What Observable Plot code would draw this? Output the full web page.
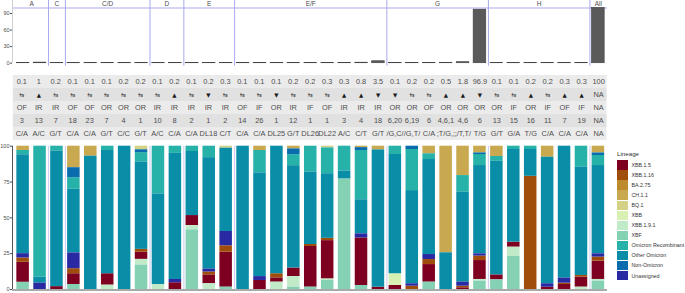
<!DOCTYPE html>
<html><head><meta charset="utf-8">
<script src="https://cdn.jsdelivr.net/npm/d3@7"></script>
<script src="https://cdn.jsdelivr.net/npm/@observablehq/plot@0.6"></script>
<style>
body{margin:0;background:#fff;font-family:"Liberation Sans",Arial,sans-serif;}
#wrap{position:relative;width:685px;height:293px;overflow:hidden;background:#fff;}
#wrap > .part{position:absolute;left:0;}
#legend{position:absolute;left:617px;top:149px;font-size:5.3px;color:#333;}
#legend .title{font-size:6.2px;height:11px;line-height:10px;}
#legend .item{display:flex;align-items:center;height:10.06px;}
#legend .sw{width:11px;height:9.4px;margin-right:3.5px;}
</style></head><body><div id="wrap"></div>
<script>
// ---------- data ----------
const facetNames = ["A","C","C/D","D","E","E/F","G","H","All"];
const facetSizes = [2,1,5,2,3,9,6,6,1];
const pctValues = [0.1,1,0.2,0.1,0.1,0.1,0.2,0.2,0.1,0.2,0.1,0.2,0.3,0.1,0.1,0.1,0.2,0.2,0.3,0.3,0.8,3.5,0.1,0.2,0.2,0.5,1.8,96.9,0.1,0.1,0.2,0.2,0.3,0.3,100];
const pctLabels = ["0.1","1","0.2","0.1","0.1","0.1","0.2","0.2","0.1","0.2","0.1","0.2","0.3","0.1","0.1","0.1","0.2","0.2","0.3","0.3","0.8","3.5","0.1","0.2","0.2","0.5","1.8","96.9","0.1","0.1","0.2","0.2","0.3","0.3","100"];
const trendLabels = ["⇆","▲","⇆","⇆","⇆","⇆","⇆","⇆","⇆","▲","⇆","▼","⇆","⇆","⇆","▼","⇆","⇆","⇆","▲","▲","▼","▼","⇆","⇆","▲","▲","▼","⇆","⇆","▲","⇆","▲","▲","NA"];
const siteLabels = ["OF","IR","IR","OF","OF","OR","OR","OR","IR","IR","IR","IR","IR","OF","IF","OR","IR","IF","OF","IR","IR","IR","OR","OR","OF","OR","OR","OR","OR","IF","OR","IF","OF","IF","NA"];
const codeLabels = ["3","13","7","18","23","7","4","1","10","8","2","1","2","14","26","1","12","1","1","3","4","18","6,20","6,19","6","4,6,1","4,6","6","13","15","16","11","7","19","NA"];
const mutLabels = ["C/A","A/C","G/T","C/A","C/A","G/T","C/C","G/T","A/C","C/A","C/A","DL18","C/T","C/A","C/A","DL25","G/T","DL26","DL22","A/C","C/T","G/T","/G,C/","/G,T/","C/A",";T/G,;",";/T,T/","T/G","G/T","G/A","T/G","C/A","C/A","C/A","NA"];

const lineages = ["XBB.1.5","XBB.1.16","BA.2.75","CH.1.1","BQ.1","XBB","XBB.1.9.1","XBF","Omicron Recombinant","Other Omicron","Non-Omicron","Unassigned"];
const lineageColors = ["#7d0020","#a04d0c","#bd8a2e","#c8a94f","#d3d185","#d8f1b3","#c1eac8","#84d1b4","#26b1a9","#0a8da6","#0b6cad","#2929a3"];
const stackOrder = ["XBF","XBB.1.9.1","XBB.1.5","XBB.1.16","XBB","Unassigned","Other Omicron","Omicron Recombinant","Non-Omicron","CH.1.1","BQ.1","BA.2.75"];

const xbb15 = [14,0,2,7.5,0,8,0,5,0,4.7,7,6.2,24.4,0,6.3,3,6,28.4,26.8,0,33.2,1.6,2.8,0,12.3,0,1.2,13.2,3.5,3.5,0,1.6,3.5,7,12.8];
const xbb116 = [3,0,0,3.5,0,0,0,2,0,0,0,2,4.5,0,0,2.9,0,1.4,1.6,0,0,0,0,2.3,3.5,0,1.1,3.1,0,0,79,0,0.9,1.2,2.8];
const ba275 = [0,0,0,0,0,0,0,0,0,0,0,0,0,0,0,0,0,0,0,0,0,0,0,0,0,0,0,0,0,0,0,0,0,0,0];
const ch11 = [3,0,0,15,7,0,0,0,0,0,0,0,0,0,3,0,1.9,0,0,0,1,2.6,0,0,5.3,74.4,20.5,4.7,7.2,0,0,7.7,0,0,4.7];
const bq1 = [0,0,0,0,0,0,0,2.5,0,0,0,0,1.4,0,0,0,0,0,1.2,0,0,0,0,0,0,0,0,0,0,0,0,0,0,0,0];
const xbb = [0,0,0,0,0,0,0,0,0,0,0,0,0,0,0,0,0,0,0,0,0,0,8.2,0,0,0,0,0,0,0,0,0,0,0,0];
const xbb191 = [0,0,0,0,0,3,0,4,3.5,0,3,4,0,0,0,5.1,7.4,0,1,0,0,0,0,0,0,0,0,1.2,0,6.5,0,0,0,1.6,1.2];
const xbf = [5,0,0,3.5,0,0,0,17,0,0,41.6,0,1.6,0,0,0,1.6,1.6,6.3,77.2,2.8,0,0,0,5.1,0,0,5.8,6.7,23,0,0,0,0,5.8];
const omRec = [3,91.4,3.5,8,0,3,0,6.5,33.3,5,3.7,8,0,0,15.6,0,7.7,18,18,17.4,34.4,0,5.8,28.7,4,0,11.6,7.7,3.3,2.3,2.3,0,0,14.7,7];
const otherOm = [69,4.2,94.5,44.5,93,86,100,61,63.2,88,44.7,77.8,58.1,100,72.4,89,71.4,50.6,45.1,5.4,23.8,95.8,83.2,65,66.3,25.6,62.8,61.6,79.3,64.7,18.7,88.3,92.1,75.5,61.6];
const nonOm = [0,0,0,7,0,0,0,2,0,0,0,0,0,0,0,0,4,0,0,0,2,0,0,2.3,0,0,0,1.1,0,0,0,0,0,0,1.8];
const unassigned = [3,4.4,0,11,0,0,0,0,0,2.3,0,2,10,0,2.7,0,0,0,0,0,2.8,0,0,1.7,3.5,0,2.8,1.6,0,0,0,2.4,3.5,0,2.3];
const lineageValues = [xbb15,xbb116,ba275,ch11,bq1,xbb,xbb191,xbf,omRec,otherOm,nonOm,unassigned];

// ---------- build ----------
const W = 685;
const font = '"Liberation Sans", Arial, sans-serif';
const cols = d3.range(pctValues.length);
const facets = []; let s = 0;
facetNames.forEach((n,k) => { facets.push({name:n, start:s, end:s+facetSizes[k]-1}); s += facetSizes[k]; });
const bounds = facets.slice(1).map(f => f.start - 0.5);
const xBars = {domain:[-0.5, cols.length-0.5], range:[14.15, 606.35], axis:null};
const hw = 0.37;
const wrap = document.getElementById("wrap");
function place(el, top){ el.classList.add("part"); el.style.top = top+"px"; wrap.appendChild(el); }

const topChart = Plot.plot({
  width:W, height:66, marginTop:7.5, marginBottom:3.3, marginLeft:12, marginRight:78,
  style:{fontFamily:font, fontSize:"5.5px", color:"#4d4d4d", background:"transparent", overflow:"visible"},
  x:xBars,
  y:{domain:[0,100], ticks:[0,30,60,90], tickSize:2, tickPadding:1, label:null},
  marks:[
    Plot.ruleX(bounds, {x:d=>d, stroke:"#a9a9ec", strokeWidth:1, insetTop:-8, insetBottom:-3}),
    Plot.ruleY([100], {stroke:"#a9a9ec"}),
    Plot.ruleX([-0.5], {dx:-2.15, stroke:"#d0d0d0", insetTop:-8}),
    Plot.rectY(cols, {x:i=>i, x1:i=>i-hw, x2:i=>i+hw, y:i=>pctValues[i], fill:"#5a5a5a", stroke:"#444", strokeWidth:0.7}),
    Plot.text(facets, {x:f=>(f.start+f.end)/2, y:()=>100, dy:-3.6, text:"name", fontSize:6.5, fill:"#4d4d4d"})
  ]
});
place(topChart, 0);

const rowKeys = ["pct","trend","site","code","mut"];
const rowText = {pct:pctLabels, trend:trendLabels, site:siteLabels, code:codeLabels, mut:mutLabels};
const cells = rowKeys.flatMap(r => cols.map(i => ({i, row:r, t:rowText[r][i]})));
const isSym = d => d.t === "⇆" || d.t === "▲" || d.t === "▼";
const tableChart = Plot.plot({
  width:W, height:66, marginTop:0, marginBottom:0, marginLeft:0, marginRight:0,
  style:{fontFamily:font, background:"transparent"},
  x:{domain:[-0.5, cols.length-0.5], range:[12.8, 606.6], axis:null},
  y:{domain:rowKeys, range:[0,66], padding:0, axis:null},
  marks:[
    Plot.barX(rowKeys.filter((r,k)=>k%2===0), {x1:()=>-0.5, x2:()=>cols.length-0.5, y:r=>r, fill:"#ebebeb"}),
    Plot.barX(rowKeys.filter((r,k)=>k%2===1), {x1:()=>-0.5, x2:()=>cols.length-0.5, y:r=>r, fill:"#e1e1e1"}),
    Plot.text(cells.filter(d=>!isSym(d)), {x:"i", y:"row", text:"t", fontSize:7.4, fill:"#4d4d4d"}),
    Plot.text(cells.filter(d=>d.t==="⇆"), {x:"i", y:"row", text:"t", fontSize:6, fill:"#333", fontFamily:"DejaVu Sans"}),
    Plot.text(cells.filter(d=>d.t==="▲"||d.t==="▼"), {x:"i", y:"row", text:"t", fontSize:5.5, fill:"#1a1a1a", fontFamily:"DejaVu Sans"})
  ]
});
place(tableChart, 74);

const long = lineages.flatMap((l,k) => lineageValues[k].map((v,i) => ({lineage:l, i, v})));
const bottomChart = Plot.plot({
  width:W, height:153, marginTop:5.7, marginBottom:4, marginLeft:12, marginRight:78,
  style:{fontFamily:font, fontSize:"5.5px", color:"#4d4d4d", background:"transparent", overflow:"visible"},
  x:xBars,
  y:{domain:[0,100], ticks:[0,25,50,75,100], tickSize:2, tickPadding:1, label:null},
  color:{domain:lineages, range:lineageColors},
  marks:[
    Plot.ruleX(bounds, {x:d=>d, stroke:"#d2d2f4", strokeWidth:1.2}),
    Plot.rectY(long, {x:"i", x1:d=>d.i-hw, x2:d=>d.i+hw, y:"v", fill:"lineage", order:stackOrder}),
    Plot.ruleY([0], {stroke:"#555", dy:0.5}),
    Plot.ruleX([-0.5], {dx:-2.15, stroke:"#555"})
  ]
});
place(bottomChart, 140);

// legend
const lg = document.createElement("div"); lg.id = "legend";
lg.innerHTML = '<div class="title">Lineage</div>' + lineages.map((l,k) =>
  `<div class="item"><div class="sw" style="background:${lineageColors[k]}"></div><span>${l}</span></div>`).join("");
wrap.appendChild(lg);
</script></body></html>
